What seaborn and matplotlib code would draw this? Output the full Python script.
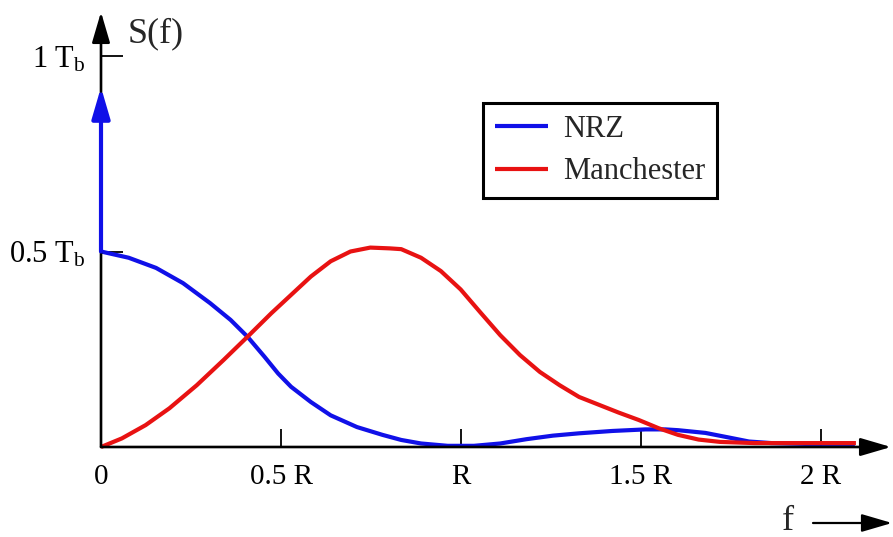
import matplotlib
matplotlib.use("Agg")
import matplotlib.pyplot as plt
import pandas as pd
import seaborn as sns

# Power spectral density, frequency in units of the bit rate R, S(f) in units of T_b
nrz_f = [0.000, 0.077, 0.153, 0.228, 0.303, 0.360, 0.407, 0.454, 0.492, 0.528,
         0.583, 0.638, 0.711, 0.782, 0.834, 0.889, 0.963, 1.036, 1.109, 1.182,
         1.255, 1.328, 1.420, 1.512, 1.568, 1.603, 1.679, 1.740, 1.800, 1.862,
         1.956, 2.094]
nrz_s = [0.500, 0.484, 0.458, 0.419, 0.368, 0.325, 0.282, 0.231, 0.188, 0.154,
         0.115, 0.081, 0.051, 0.031, 0.018, 0.009, 0.003, 0.003, 0.009, 0.020,
         0.029, 0.035, 0.041, 0.045, 0.045, 0.043, 0.036, 0.025, 0.014, 0.010,
         0.008, 0.008]

man_f = [0.000, 0.058, 0.124, 0.190, 0.266, 0.341, 0.407, 0.473, 0.528, 0.583,
         0.638, 0.693, 0.748, 0.802, 0.834, 0.889, 0.944, 0.999, 1.054, 1.109,
         1.164, 1.219, 1.274, 1.328, 1.383, 1.438, 1.494, 1.549, 1.603, 1.660,
         1.720, 1.815, 1.950, 2.097]
man_s = [0.000, 0.022, 0.056, 0.099, 0.158, 0.223, 0.282, 0.342, 0.389, 0.436,
         0.475, 0.500, 0.510, 0.508, 0.506, 0.484, 0.450, 0.403, 0.344, 0.286,
         0.235, 0.192, 0.158, 0.128, 0.108, 0.088, 0.069, 0.048, 0.031, 0.019,
         0.013, 0.010, 0.010, 0.010]

nrz_impulse_top = 0.92  # DC spectral line of NRZ

series_names = ["NRZ", "Manchester"]
series_colors = ["#1010e8", "#e81212"]

x_ticks = [0, 0.5, 1, 1.5, 2]
x_tick_labels = ["0", "0.5 R", "R", "1.5 R", "2 R"]
y_ticks = [0.5, 1.0]
y_tick_labels = [r"0.5 T$_\mathrm{b}$", r"1 T$_\mathrm{b}$"]

sns.set_theme(style="white")
plt.rcParams["font.family"] = ["Liberation Serif", "DejaVu Serif"]
plt.rcParams["mathtext.fontset"] = "custom"
plt.rcParams["mathtext.rm"] = "Liberation Serif"
plt.rcParams["mathtext.it"] = "Liberation Serif:italic"

df = pd.concat([
    pd.DataFrame({"f": nrz_f, "S": nrz_s, "code": series_names[0]}),
    pd.DataFrame({"f": man_f, "S": man_s, "code": series_names[1]}),
], ignore_index=True)

W, H = 893, 537
fig = plt.figure(figsize=(W / 100, H / 100), dpi=100)
x0, y0 = 101, 447          # origin in pixels
px_x, px_y = 360, 391      # pixels per unit
ax = fig.add_axes([x0 / W, (H - y0) / H, (W - 2 - x0) / W, (y0 - 12) / H])
ax.set_xlim(0, (W - 2 - x0) / px_x)
ax.set_ylim(0, (y0 - 12) / px_y)

sns.lineplot(data=df, x="f", y="S", hue="code", hue_order=series_names,
             palette=dict(zip(series_names, series_colors)),
             linewidth=3.0, sort=False, estimator=None, ax=ax)
for ln in ax.get_lines():
    ln.set_clip_on(False)
    ln.set_solid_capstyle("butt")
    ln.set_solid_joinstyle("round")

for s in ax.spines.values():
    s.set_visible(False)

# axes drawn as arrows
arrow_kw = dict(arrowstyle="-|>,head_length=0.75,head_width=0.22", lw=1.9,
                color="black", mutation_scale=25, shrinkA=0, shrinkB=0)
ax.annotate("", xy=(0, ax.get_ylim()[1]), xytext=(0, 0), arrowprops=arrow_kw,
            annotation_clip=False)
ax.annotate("", xy=(ax.get_xlim()[1], 0), xytext=(0, 0), arrowprops=arrow_kw,
            annotation_clip=False)

# NRZ impulse at f = 0
ax.annotate("", xy=(0, nrz_impulse_top), xytext=(0, nrz_s[0]),
            arrowprops=dict(arrowstyle="-|>,head_length=0.75,head_width=0.22",
                            lw=3.0, color=series_colors[0], mutation_scale=25,
                            shrinkA=0, shrinkB=0),
            annotation_clip=False)

ax.set_xticks(x_ticks)
ax.set_xticklabels(x_tick_labels)
ax.set_yticks(y_ticks)
ax.set_yticklabels(y_tick_labels)
ax.tick_params(axis="x", direction="in", length=13, width=1.3, colors="black",
               pad=12, labelsize=21, bottom=True)
ax.tick_params(axis="y", direction="in", length=16, width=1.3, colors="black",
               pad=11, labelsize=22, left=True)
ax.set_xlabel("")
ax.set_ylabel("")

leg = ax.legend(loc="upper left", bbox_to_anchor=(483 / W, 1 - 103 / H),
                bbox_transform=fig.transFigure, borderaxespad=0, fontsize=22,
                frameon=True, fancybox=False, handlelength=1.75,
                handletextpad=0.5, labelspacing=0.45, borderpad=0.38)
leg.get_frame().set_edgecolor("black")
leg.get_frame().set_linewidth(2.2)
leg.get_frame().set_alpha(1)
for h in leg.get_lines():
    h.set_linewidth(3.0)

fig.text(128 / W, 1 - 34 / H, "S(f)", fontsize=26, va="center", ha="left")
fig.text(782 / W, 1 - 522 / H, "f", fontsize=26, va="center", ha="left")
fig.patches.append(matplotlib.patches.FancyArrowPatch(
    (813 / W, 1 - 523 / H), (892 / W, 1 - 523 / H), transform=fig.transFigure,
    arrowstyle="-|>,head_length=0.75,head_width=0.22", lw=1.6, color="black",
    mutation_scale=25, shrinkA=0, shrinkB=0))

fig.savefig("out.png", dpi=100, facecolor="white")
